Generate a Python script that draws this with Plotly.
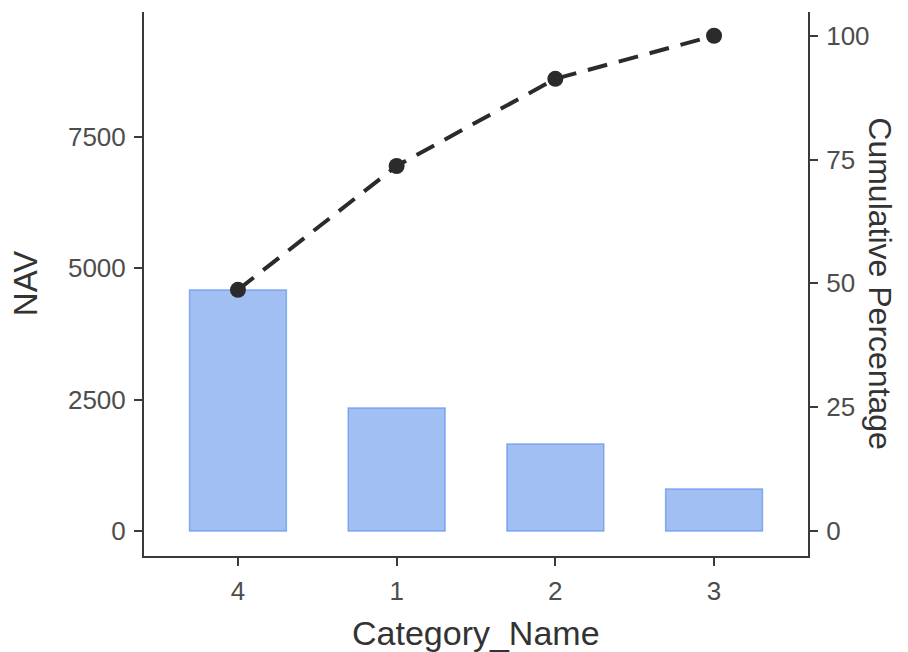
import plotly.graph_objects as go

categories = ["4", "1", "2", "3"]
nav = [4580, 2340, 1655, 800]
cum_pct = [48.7, 73.7, 91.3, 100.0]

left_ticks = [0, 2500, 5000, 7500]
right_ticks = [0, 25, 50, 75, 100]

FONT = "Liberation Sans, Arial"

fig = go.Figure()
fig.add_trace(go.Bar(
    x=categories, y=nav, width=0.61,
    marker=dict(color="rgba(100,149,237,0.6)",
                line=dict(color="rgba(100,149,237,0.75)", width=1.5)),
    yaxis="y", showlegend=False,
))
fig.add_trace(go.Scatter(
    x=categories, y=cum_pct, mode="lines+markers",
    line=dict(color="#2b2b2b", width=4, dash="20px,12px"),
    marker=dict(color="#2b2b2b", size=16),
    yaxis="y2", showlegend=False,
))

axis_common = dict(showgrid=False, zeroline=False, showline=True,
                   linecolor="#3a3a3a", linewidth=2,
                   ticks="outside", ticklen=8, tickwidth=2, tickcolor="#3a3a3a",
                   ticklabelstandoff=3,
                   tickfont=dict(family=FONT, size=26, color="#4d4d4d"))

# body has an 8px margin in the page, so the figure is shifted by (8, 8)
fig.update_layout(
    width=900, height=644,
    margin=dict(l=136, r=100, t=4, b=96),
    paper_bgcolor="white", plot_bgcolor="white",
    xaxis=dict(type="category", range=[-0.592, 3.592], **axis_common),
    yaxis=dict(range=[-475, 9867], tickvals=left_ticks,
               ticktext=[str(v) for v in left_ticks], **axis_common),
    yaxis2=dict(range=[-5.05, 104.8], overlaying="y", side="right",
                tickvals=right_ticks, ticktext=[str(v) for v in right_ticks], **axis_common),
    annotations=[
        dict(text="NAV", xref="paper", yref="paper", x=-0.179, y=0.5,
             textangle=-90, showarrow=False,
             font=dict(family=FONT, size=33, color="#333333"),
             xanchor="center", yanchor="middle"),
        dict(text="Cumulative Percentage", xref="paper", yref="paper", x=1.108, y=0.5,
             textangle=90, showarrow=False,
             font=dict(family=FONT, size=32, color="#333333"),
             xanchor="center", yanchor="middle"),
        dict(text="Category_Name", xref="paper", yref="paper", x=0.5, y=-0.1415,
             showarrow=False,
             font=dict(family=FONT, size=34, color="#333333"),
             xanchor="center", yanchor="middle"),
    ],
)

fig.write_html("out.html")
